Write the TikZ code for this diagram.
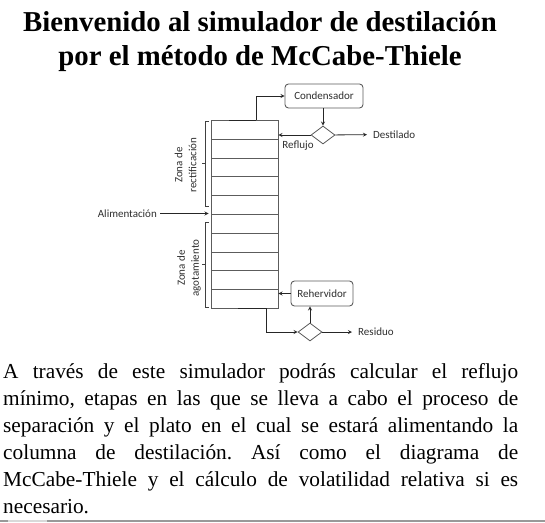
\documentclass[tikz,border=0pt]{standalone}
\usepackage{fontspec}
\setmainfont{Liberation Serif}
\newfontfamily\labelfont{Carlito}
\usepackage{tikz}
\usetikzlibrary{shapes.geometric}
\definecolor{inkgrey}{HTML}{2E2E2E}
\definecolor{wallgrey}{HTML}{5C5C5C}
\tikzset{
  unitbox/.style={draw=wallgrey,line width=.9pt,rounded corners=3.5pt,fill=white,inner sep=0pt,text=inkgrey,font=\labelfont\fontsize{11}{12}\selectfont},
  splitter/.style={diamond,draw=wallgrey,line width=.8pt,fill=white,minimum width=24pt,minimum height=18pt,inner sep=0pt,aspect=1.33},
  streamlabel/.style={text=inkgrey,inner sep=0pt,font=\labelfont\fontsize{11}{12}\selectfont},
  zonelabel/.style={streamlabel,rotate=90,align=center,font=\labelfont\fontsize{11}{14}\selectfont},
  stream/.style={draw=black!85,line width=.8pt,>=stealth},
  plate/.style={draw=wallgrey,line width=.8pt},
  zonebrace/.style={draw=black!75,line width=.8pt}
}

\begin{document}
\begin{tikzpicture}[x=1pt,y=-1pt]
    \useasboundingbox (0,0) rectangle (545,522);
    \node[align=center,font=\bfseries\fontsize{28.8}{34}\selectfont] (title) at (260,42) {Bienvenido al simulador de destilación\\por el método de McCabe-Thiele};
    % column and plates
    \node[draw=wallgrey,line width=.9pt,minimum width=67pt,minimum height=188pt,inner sep=0pt] (column) at (244.5,214) {};
    \foreach \y in {139,158,176.5,195,214,233,252,270.5,289.5}{\draw[plate] (211,\y) -- (278,\y);}
    \node[unitbox,minimum width=78pt,minimum height=24pt] (condensador) at (324,96) {Condensador};
    \node[unitbox,minimum width=62pt,minimum height=25pt] (rehervidor) at (322,293.5) {Rehervidor};
    \node[splitter] (topsplit) at (323,135) {};
    \node[splitter] (bottomsplit) at (310,332) {};
    \node[streamlabel,anchor=west] (destilado) at (373,134.5) {Destilado};
    \node[streamlabel,anchor=west] (residuo) at (358,332) {Residuo};
    \node[streamlabel] (reflujo) at (298,145.5) {Reflujo};
    \node[streamlabel,anchor=east] (alimentacion) at (157,213.5) {Alimentación};
    \node[zonelabel] (rectificacion) at (185.5,165) {Zona de\\rectificación};
    \node[zonelabel] (agotamiento) at (189,268) {Zona de\\agotamiento};
    % streams
    \coordinate (toptakeoff) at (256,120);
    \coordinate (bottomtakeoff) at (266,308);
    \draw[stream] (229,120) -- (toptakeoff);
    \draw[stream] (238,308) -- (bottomtakeoff);
    \draw[stream,->] (toptakeoff) |- (condensador);
    \draw[stream,->] (bottomtakeoff) |- (bottomsplit);
    \draw[stream,->] (condensador.south -| topsplit) -- (topsplit);
    \draw[stream,->] (topsplit) -- (column.east |- topsplit);
    \draw[stream,->,shorten >=6pt] (topsplit) -- (destilado);
    \draw[stream,->,shorten >=6pt] (bottomsplit) -- (residuo);
    \draw[stream,->] (bottomsplit) -- (rehervidor.south -| bottomsplit);
    \draw[stream,->] (rehervidor) -- (column.east |- rehervidor);
    \draw[stream,->,shorten <=3pt,shorten >=2pt] (alimentacion) -- (column.west |- alimentacion);
    % zone brackets
    \draw[zonebrace] (209,121) -- (205,121) -- (205,206.5) -- (209,206.5);
    \draw[zonebrace] (205,163) -- (202,163);
    \draw[zonebrace] (209,222) -- (205,222) -- (205,307) -- (209,307);
    \draw[zonebrace] (205,264) -- (202,264);
    \node[anchor=north west,text width=515pt,align=justify,inner sep=0pt,font=\frenchspacing\fontsize{21.33}{27}\selectfont] (intro) at (3,363) {A través de este simulador podrás calcular el reflujo\linebreak mínimo, etapas en las que se lleva a cabo el proceso de\linebreak separación y el plato en el cual se estará alimentando la\linebreak columna de destilación. Así como el diagrama de\linebreak McCabe-Thiele y el cálculo de volatilidad relativa si es\linebreak necesario.};
    \draw[draw=black!40,line width=1.5pt] (0,521) -- (545,521);
    \draw[draw=black!15,line width=1.5pt] (8,521) -- (47,521);
  \end{tikzpicture}
\end{document}
